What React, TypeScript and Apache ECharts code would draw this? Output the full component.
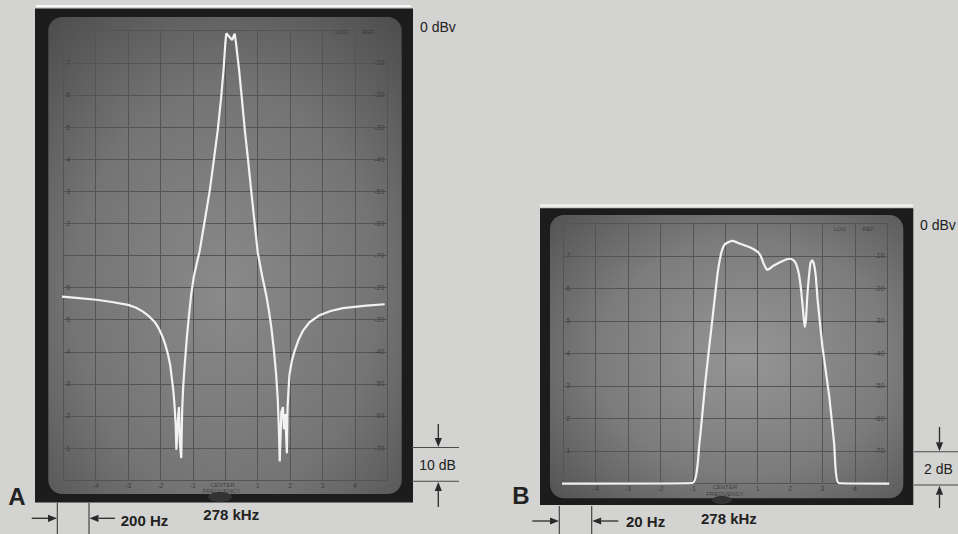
import React, { useEffect, useRef } from "react";
import * as echarts from "echarts";

// Trace A: 200 Hz/div, 10 dB/div (x in divisions from centre, y in dB)
const traceA: [number, number][] = [
  [-5.2, -82.7], [-4.6, -83.2], [-3.98, -83.8], [-3.5, -84.5], [-3.0, -85.4], [-2.75, -86.3],
  [-2.54, -87.5], [-2.35, -89], [-2.18, -90.7], [-2.05, -92.8], [-1.93, -95.5], [-1.85, -97.8],
  [-1.77, -100.8], [-1.7, -104.2], [-1.65, -108.2], [-1.6, -112.5], [-1.56, -117.8], [-1.53, -123],
  [-1.51, -130.5], [-1.46, -120.9], [-1.43, -117.2], [-1.4, -128.4], [-1.36, -133.1],
  [-1.33, -117.8], [-1.3, -111], [-1.26, -105], [-1.19, -96], [-1.12, -88.5], [-1.05, -82],
  [-0.97, -76.5], [-0.88, -72.5], [-0.79, -68.5], [-0.64, -59.5], [-0.48, -49.8], [-0.35, -40],
  [-0.23, -30.7], [-0.13, -21], [-0.05, -11.7], [0.0, -4], [0.03, -0.8],
  [0.21, -2.9], [0.29, -0.9], [0.33, -3.8], [0.42, -11.7], [0.51, -21], [0.6, -30.7],
  [0.7, -40], [0.8, -49.8], [0.9, -59.5], [1.0, -69], [1.13, -76], [1.27, -82.7], [1.35, -87.5],
  [1.42, -92.3], [1.5, -99.5], [1.57, -107.2], [1.62, -115], [1.65, -123], [1.68, -134.2],
  [1.73, -118.8], [1.78, -117.2], [1.81, -124.1], [1.85, -119.4], [1.9, -131.6],
  [1.92, -117.8], [1.95, -112], [1.98, -107.2], [2.05, -103], [2.14, -99.7], [2.26, -96.3],
  [2.4, -93.4], [2.6, -90.8], [2.91, -88.6], [3.25, -87.3], [3.63, -86.4], [4.35, -85.6],
  [4.92, -85.2],
];

// Trace B: 20 Hz/div, 2 dB/div
const traceB: [number, number][] = [
  [-5.23, -80.1], [-1.01, -79.9], [-0.8, -67.8], [-0.6, -47.3], [-0.39, -28.8],
  [-0.24, -15.5], [-0.13, -9.3], [-0.05, -7], [0.02, -6.2], [0.23, -5.4], [0.43, -6.2],
  [0.74, -7.3], [1.0, -8.8], [1.1, -10.2], [1.2, -12.8], [1.29, -14.3], [1.38, -13.9],
  [1.46, -13.2], [1.77, -11.6], [1.98, -10.9], [2.1, -11.3], [2.18, -12.4], [2.27, -15.5],
  [2.34, -20.6], [2.41, -28], [2.45, -31.9], [2.49, -29.5], [2.54, -21], [2.59, -15.5],
  [2.63, -12.2], [2.68, -11.4], [2.73, -12.3], [2.79, -16], [2.85, -23.7], [3.0, -38.1],
  [3.21, -53.4], [3.36, -67.8], [3.5, -79.9], [5.06, -80.1],
];

// graticule labels (per horizontal line from the top)
const aLeftLabels = ["", "7", "6", "5", "4", "3", "2", "", "6", "5", "4", "3", "2", "1", ""];
const aRightLabels = ["", "-10", "-20", "-30", "-40", "-50", "-60", "-70", "-20", "-30", "-40", "-50", "-60", "-70", ""];
const bLeftLabels = ["", "7", "6", "5", "4", "3", "2", "1", ""];
const bRightLabels = ["", "-10", "-20", "-30", "-40", "-50", "-60", "-70", ""];
const xTickLabels = ["-4", "-3", "-2", "-1", "", "1", "2", "3", "4"];

const FONT = "Liberation Sans, Arial, sans-serif";
const GRID_COLOR = "#545454";
const SCREEN_TEXT = "rgba(45,45,45,0.75)";
const FRAME = "#1c1c1c";

function xFmt(v: number) {
  const i = Math.round(v) + 4;
  return i >= 0 && i < xTickLabels.length ? xTickLabels[i] : "";
}
function yFmt(labels: string[]) {
  return (v: number) => {
    const k = Math.round(-v / 10);
    return labels[k] ?? "";
  };
}

function arrow(x1: number, y1: number, x2: number, y2: number) {
  const dx = x2 - x1, dy = y2 - y1;
  const L = Math.hypot(dx, dy);
  const ux = dx / L, uy = dy / L;
  const px = -uy, py = ux;
  const hl = 9, hw = 3.6;
  const bx = x2 - ux * hl, by = y2 - uy * hl;
  return [
    { type: "line", z: 30, shape: { x1, y1, x2: bx, y2: by }, style: { stroke: "#2a2a2a", lineWidth: 1.3 } },
    {
      type: "polygon", z: 30,
      shape: { points: [[x2, y2], [bx + px * hw, by + py * hw], [bx - px * hw, by - py * hw]] },
      style: { fill: "#2a2a2a" },
    },
  ];
}

function txt(x: number, y: number, text: string, size: number, opts: any = {}) {
  return {
    type: "text", z: 30, x, y,
    style: {
      text, fontSize: size, fontFamily: FONT, fill: opts.fill || "#222",
      fontWeight: opts.weight || "normal", align: opts.align || "left", verticalAlign: "middle",
    },
  };
}

function hline(x1: number, x2: number, y: number) {
  return { type: "line", z: 30, shape: { x1, y1: y, x2, y2: y }, style: { stroke: "#4a4a4a", lineWidth: 1.1 } };
}
function vline(x: number, y1: number, y2: number) {
  return { type: "line", z: 30, shape: { x1: x, y1, x2: x, y2 }, style: { stroke: "#3a3a3a", lineWidth: 1.1 } };
}

export default function App() {
  const ref = useRef<HTMLDivElement>(null);
  useEffect(() => {
    if (!ref.current) return;
    const chart = echarts.init(ref.current, null, { renderer: "svg" });

    const xAxisBase = (gi: number) => ({
      type: "value", gridIndex: gi, min: -5, max: 5, interval: 1, z: 10,
      axisLine: { show: false }, axisTick: { show: false },
      splitLine: { show: true, lineStyle: { color: GRID_COLOR, width: 1 } },
      axisLabel: { show: true, fontSize: 7, color: SCREEN_TEXT, margin: 2, fontFamily: FONT, formatter: xFmt },
    });
    const yAxisBase = (gi: number, min: number, pos: string, labels: string[], split: boolean) => ({
      type: "value", gridIndex: gi, min, max: 0, interval: 10, position: pos, z: 10,
      axisLine: { show: false }, axisTick: { show: false },
      splitLine: { show: split, lineStyle: { color: GRID_COLOR, width: 1 } },
      axisLabel: { show: true, inside: true, fontSize: 7, color: SCREEN_TEXT, margin: 3, fontFamily: FONT, formatter: yFmt(labels) },
    });

    const screenA = {
      type: "radial", x: 0.5, y: 0.58, r: 0.78,
      colorStops: [{ offset: 0, color: "#8a8a8a" }, { offset: 0.55, color: "#747474" }, { offset: 1, color: "#4a4a4a" }],
    };
    const screenB = {
      type: "radial", x: 0.55, y: 0.5, r: 0.75,
      colorStops: [{ offset: 0, color: "#969696" }, { offset: 0.55, color: "#7c7c7c" }, { offset: 1, color: "#525252" }],
    };

    const graphics: any[] = [
      // Panel A
      { type: "line", z: 0, shape: { x1: 36, y1: 6, x2: 411, y2: 6 }, style: { stroke: "#f7f7f7", lineWidth: 2 } },
      { type: "rect", z: 0, shape: { x: 35, y: 8.5, width: 378, height: 494 }, style: { fill: FRAME } },
      { type: "rect", z: 1, shape: { x: 48.3, y: 17, width: 353.4, height: 477, r: 14 }, style: { fill: screenA } },
      { type: "ellipse", z: 2, shape: { cx: 220, cy: 497, rx: 12, ry: 5 }, style: { fill: "#333" } },
      // Panel B
      { type: "line", z: 0, shape: { x1: 540, y1: 205.5, x2: 913, y2: 205.5 }, style: { stroke: "#f7f7f7", lineWidth: 2 } },
      { type: "rect", z: 0, shape: { x: 540, y: 208.3, width: 373.3, height: 296.7 }, style: { fill: FRAME } },
      { type: "rect", z: 1, shape: { x: 550, y: 215, width: 353.3, height: 283.3, r: 14 }, style: { fill: screenB } },
      { type: "ellipse", z: 2, shape: { cx: 722, cy: 500, rx: 10, ry: 4 }, style: { fill: "#333" } },
      // screen legends
      txt(341.5, 31.7, "LOG", 6, { fill: SCREEN_TEXT, align: "center" }),
      txt(368.3, 31.7, "REF", 6, { fill: SCREEN_TEXT, align: "center" }),
      txt(840, 229, "LOG", 6, { fill: SCREEN_TEXT, align: "center" }),
      txt(868.5, 229, "REF", 6, { fill: SCREEN_TEXT, align: "center" }),
      txt(222.5, 484.8, "CENTER", 6, { fill: SCREEN_TEXT, align: "center" }),
      txt(221.5, 490.5, "FREQUENCY", 6, { fill: SCREEN_TEXT, align: "center" }),
      txt(725, 487, "CENTER", 6, { fill: SCREEN_TEXT, align: "center" }),
      txt(725, 494, "FREQUENCY", 6, { fill: SCREEN_TEXT, align: "center" }),
      // outer annotations A
      txt(420, 26.6, "0 dBv", 14),
      hline(411.7, 459, 447.5),
      hline(411.7, 459, 481.3),
      txt(437.5, 465, "10 dB", 14, { align: "center" }),
      ...arrow(438.3, 424, 438.3, 447),
      ...arrow(438.3, 507, 438.3, 482),
      txt(17, 496.5, "A", 24, { weight: "bold", align: "center" }),
      vline(57.3, 503, 534),
      vline(89, 503, 534),
      ...arrow(31.7, 518.3, 57, 518.3),
      ...arrow(115, 518.3, 89.5, 518.3),
      txt(120.7, 520, "200 Hz", 15, { weight: "bold" }),
      txt(203.3, 514.3, "278 kHz", 15, { weight: "bold" }),
      // outer annotations B
      txt(920, 225, "0 dBv", 14),
      hline(914, 958, 451.7),
      hline(914, 958, 485),
      txt(938.5, 469, "2 dB", 14, { align: "center" }),
      ...arrow(939.5, 427, 939.5, 451.2),
      ...arrow(939.5, 508, 939.5, 485.8),
      txt(521, 495, "B", 24, { weight: "bold", align: "center" }),
      vline(559.3, 506, 534),
      vline(591.7, 506, 534),
      ...arrow(532.3, 521, 559, 521),
      ...arrow(618.3, 521, 592.2, 521),
      txt(626, 521.7, "20 Hz", 15, { weight: "bold" }),
      txt(701, 518.3, "278 kHz", 15, { weight: "bold" }),
    ];

    chart.setOption({
      animation: false,
      backgroundColor: "#d3d3d1",
      grid: [
        { left: 63.3, top: 30.7, width: 324, height: 449.5 },
        { left: 563.3, top: 223.3, width: 324, height: 260 },
      ],
      xAxis: [xAxisBase(0), xAxisBase(1)],
      yAxis: [
        yAxisBase(0, -140, "left", aLeftLabels, true),
        yAxisBase(0, -140, "right", aRightLabels, false),
        yAxisBase(1, -80, "left", bLeftLabels, true),
        yAxisBase(1, -80, "right", bRightLabels, false),
      ],
      graphic: { elements: graphics },
      series: [
        {
          type: "line", xAxisIndex: 0, yAxisIndex: 0, data: traceA, symbol: "none", clip: false, z: 20,
          lineStyle: { color: "#f2f2f2", width: 2.2 },
        },
        {
          type: "line", xAxisIndex: 1, yAxisIndex: 2, data: traceB, symbol: "none", clip: false, z: 20,
          smooth: 0.15, lineStyle: { color: "#f2f2f2", width: 2.2 },
        },
      ],
    });
    return () => chart.dispose();
  }, []);
  return <div ref={ref} style={{ position: "fixed", left: 0, top: 0, width: 958, height: 534 }} />;
}
